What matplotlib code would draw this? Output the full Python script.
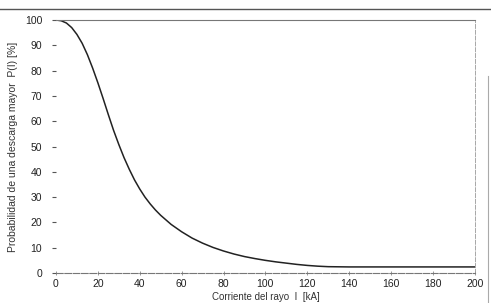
import numpy as np
import matplotlib
matplotlib.use('Agg')
import matplotlib.pyplot as plt
from matplotlib.lines import Line2D

# values
corriente = [0, 2.5, 5, 7.5, 10, 12.5, 15, 17.5, 20, 22.5, 25, 27.5, 30, 32.5,
             35, 37.5, 40, 42.5, 45, 47.5, 50, 55, 60, 65, 70, 75, 80, 85, 90,
             95, 100, 105, 110, 115, 120, 125, 130, 140, 160, 180, 200]
probabilidad = [100, 99.7, 98.8, 97, 94.3, 90.8, 86.3, 81, 75.2, 69, 62.6,
                56.4, 50.8, 45.6, 41, 36.8, 33.2, 30, 27.3, 24.9, 22.8, 19.2,
                16.3, 13.8, 11.8, 10.1, 8.7, 7.5, 6.5, 5.7, 5, 4.4, 3.9, 3.4,
                3.0, 2.7, 2.5, 2.4, 2.4, 2.4, 2.4]

xticks = [0, 20, 40, 60, 80, 100, 120, 140, 160, 180, 200]
yticks = [0, 10, 20, 30, 40, 50, 60, 70, 80, 90, 100]

plt.rcParams['font.family'] = ['Liberation Sans', 'DejaVu Sans']

fig = plt.figure(figsize=(4.91, 3.03), dpi=100)
ax = fig.add_axes([0.114, 0.099, 0.853, 0.835])

ax.plot(corriente, probabilidad, color='#222222', lw=1.1)
ax.set_xlim(0, 200)
ax.set_ylim(0, 100)
ax.set_xticks(xticks)
ax.set_yticks(yticks)
ax.tick_params(axis='both', labelsize=7.5, colors='#222222')
ax.tick_params(axis='y', direction='out', length=3, width=0.8, pad=7, color='#555555')
ax.tick_params(axis='x', direction='inout', length=3, width=0.6, pad=3, color='#888888')

ax.spines['left'].set_visible(False)
ax.spines['bottom'].set_color('#777777')
ax.spines['bottom'].set_linewidth(0.8)
ax.spines['bottom'].set_linestyle((0, (6, 1.5)))
ax.spines['top'].set_color('#777777')
ax.spines['top'].set_linewidth(0.8)
ax.spines['right'].set_color('#999999')
ax.spines['right'].set_linewidth(0.6)
ax.spines['right'].set_linestyle((0, (5, 2)))

ax.set_xlabel('Corriente del rayo  I  [kA]', fontsize=7, color='#333333', labelpad=2)
ax.set_ylabel('Probabilidad de una descarga mayor  P(I) [%]', fontsize=7.5,
              color='#333333', labelpad=5)

# page rules of the scan
fig.add_artist(Line2D([0, 1], [0.97, 0.97], transform=fig.transFigure,
                      color='#555555', lw=1.0))
fig.add_artist(Line2D([0.994, 0.994], [0.0, 0.75], transform=fig.transFigure,
                      color='#aaaaaa', lw=0.8))

fig.savefig('out.png', dpi=100)
